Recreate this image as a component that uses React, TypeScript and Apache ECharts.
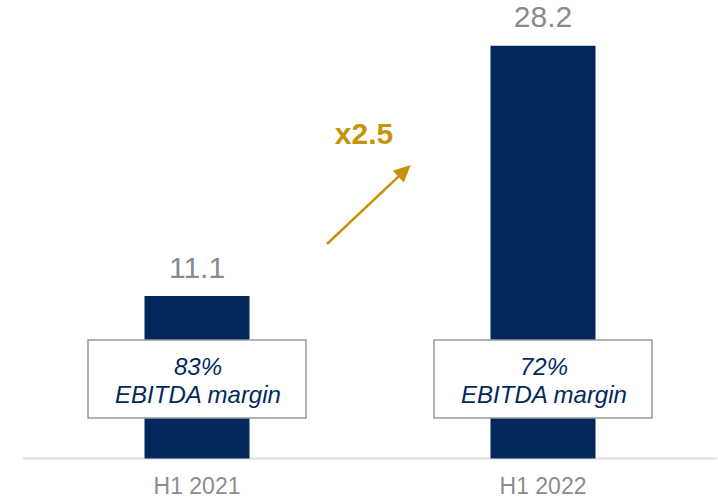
import React, { useEffect, useRef } from "react";
import * as echarts from "echarts";

const categories = ["H1 2021", "H1 2022"];
const ebitda = [11.1, 28.2];
const margins = ["83%", "72%"];
const marginLabel = "EBITDA margin";
const growthLabel = "x2.5";

const NAVY = "#03295C";
const GOLD = "#C4930A";
const FONT = "'Liberation Sans', Arial, Helvetica, sans-serif";

export default function App() {
  const ref = useRef<HTMLDivElement>(null);
  useEffect(() => {
    if (!ref.current) return;
    const chart = echarts.init(ref.current, undefined, { renderer: "svg" });
    const x1 = 327, y1 = 244, tx = 410.7, ty = 165;
    const dx = tx - x1, dy = ty - y1;
    const len = Math.sqrt(dx * dx + dy * dy);
    const ux = dx / len, uy = dy / len;
    const hl = 17, hw = 8;
    const bx = tx - ux * hl, by = ty - uy * hl;
    const px = -uy * hw, py = ux * hw;

    chart.setOption({
      animation: false,
      grid: { left: 24, right: 2, top: 19.5, bottom: 40.5 },
      xAxis: {
        type: "category",
        data: categories,
        axisTick: { show: false },
        axisLine: { lineStyle: { color: "#e4e4e4", width: 2.5 } },
        axisLabel: { fontSize: 23, color: "#8c8c8c", margin: 16, fontFamily: FONT },
      },
      yAxis: { type: "value", min: 0, max: 30, show: false, splitLine: { show: false } },
      series: [
        {
          type: "bar",
          data: ebitda,
          barWidth: 105,
          itemStyle: { color: NAVY },
          label: {
            show: true,
            position: "top",
            distance: 14,
            fontSize: 30,
            color: "#8a8a8a",
            fontFamily: FONT,
            formatter: (p: any) => p.value.toFixed(1),
          },
          z: 2,
        },
        {
          type: "custom",
          data: categories.map((_, i) => [i, 0]),
          z: 5,
          silent: true,
          renderItem: (params: any, api: any) => {
            const [x, y] = api.coord([api.value(0), 0]);
            const i = params.dataIndex;
            return {
              type: "group",
              children: [
                {
                  type: "rect",
                  shape: { x: x - 109, y: y - 118.5, width: 218, height: 78 },
                  style: { fill: "#ffffff", stroke: "#9a9a9a", lineWidth: 1.5 },
                },
                {
                  type: "text",
                  style: {
                    text: margins[i] + "\n" + marginLabel,
                    x: x + 1,
                    y: y - 78,
                    align: "center",
                    verticalAlign: "middle",
                    fontSize: 24,
                    fontStyle: "italic",
                    lineHeight: 28.5,
                    fill: NAVY,
                    fontFamily: FONT,
                  },
                },
              ],
            };
          },
        },
      ],
      graphic: [
        {
          type: "line",
          shape: { x1, y1, x2: bx + ux * 2, y2: by + uy * 2 },
          style: { stroke: GOLD, lineWidth: 2.5 },
        },
        {
          type: "polygon",
          shape: { points: [[tx, ty], [bx + px, by + py], [bx - px, by - py]] },
          style: { fill: GOLD },
        },
        {
          type: "text",
          x: 364,
          y: 133,
          style: {
            text: growthLabel,
            align: "center",
            verticalAlign: "middle",
            fontSize: 30,
            fontWeight: "bold",
            fill: GOLD,
            fontFamily: FONT,
          },
        },
      ],
    });
    return () => chart.dispose();
  }, []);
  return (
    <div
      ref={ref}
      style={{ position: "fixed", left: 0, top: 0, width: 718, height: 499, background: "#fff" }}
    />
  );
}
